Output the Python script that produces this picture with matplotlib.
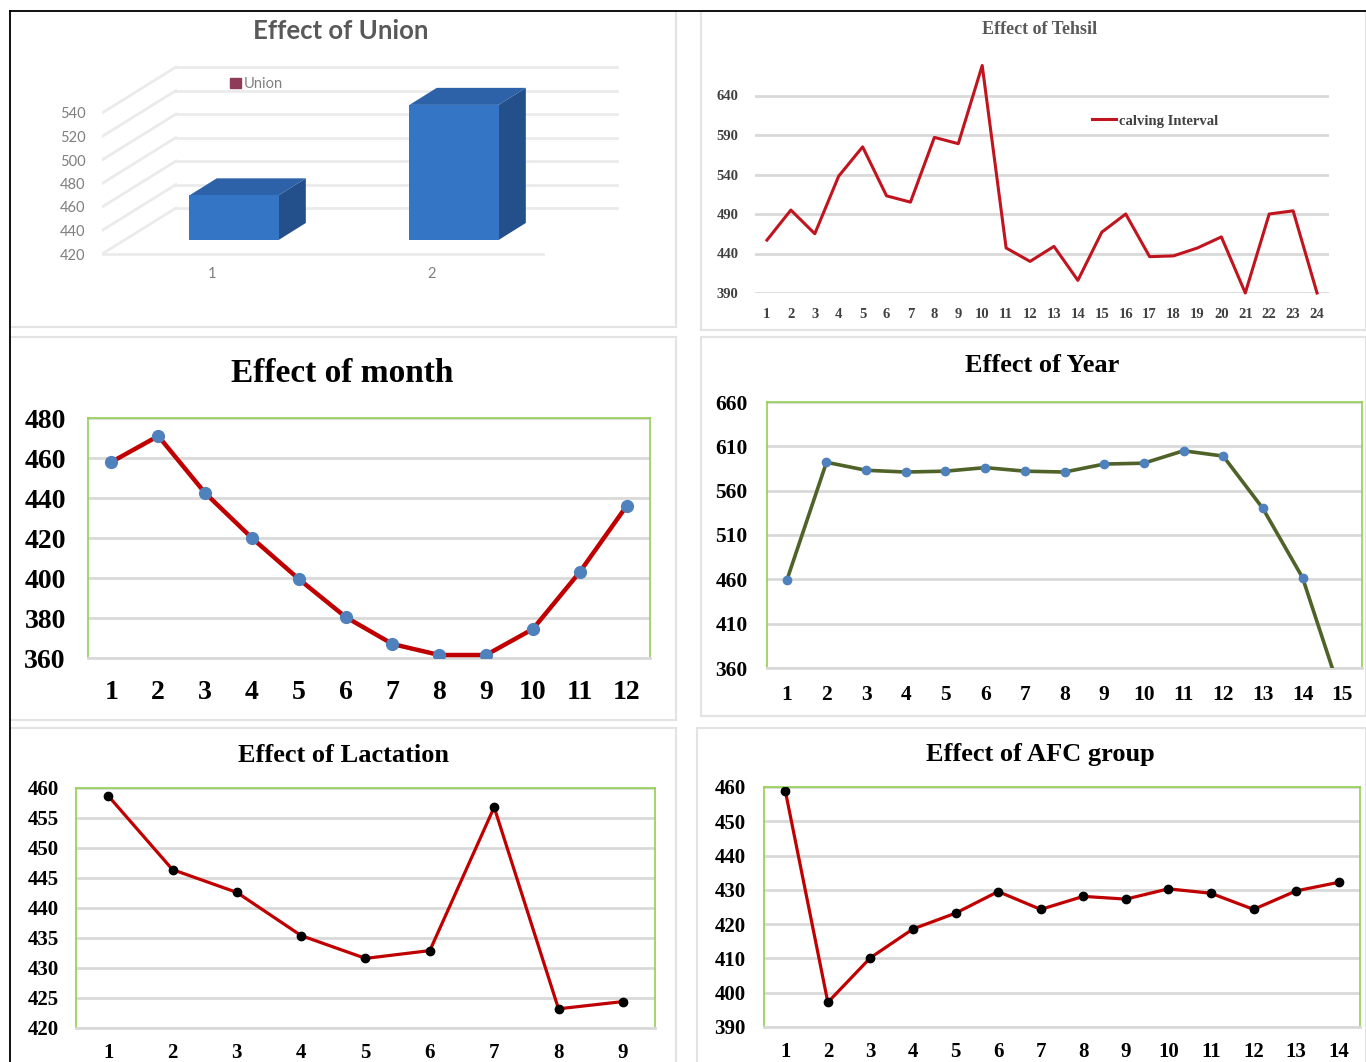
import matplotlib.pyplot as plt
from matplotlib.patches import Polygon, Rectangle, Patch
from matplotlib.lines import Line2D

W, H = 1366, 1062

union_cats = [1, 2]
union_vals = [458, 535]
union_ticks = [420, 440, 460, 480, 500, 520, 540]

tehsil_vals = [457, 495, 465, 538, 575, 513, 505, 587, 579, 678, 447, 430,
               449, 406, 467, 490, 436, 437, 447, 461, 390, 490, 494, 390]
tehsil_ticks = [390, 440, 490, 540, 590, 640]

month_vals = [458, 471, 442.5, 420, 399.5, 380.5, 367, 361.5, 361.5, 374.5, 403, 436]
month_ticks = [360, 380, 400, 420, 440, 460, 480]

year_vals = [459, 592, 583, 581, 582, 586, 582, 581, 590, 591, 605, 599, 540, 462, 326]
year_ticks = [360, 410, 460, 510, 560, 610, 660]

lact_vals = [458.7, 446.4, 442.6, 435.4, 431.6, 432.9, 456.8, 423.2, 424.4]
lact_ticks = [420, 425, 430, 435, 440, 445, 450, 455, 460]

afc_vals = [458.9, 397.2, 410.2, 418.6, 423.2, 429.5, 424.3, 428.1, 427.3,
            430.3, 429.0, 424.3, 429.7, 432.2]
afc_ticks = [390, 400, 410, 420, 430, 440, 450, 460]

GRID = "#d9d9d9"
GREEN = "#92d050"
SERIF = "Liberation Serif"

plt.rcParams["font.family"] = SERIF

fig = plt.figure(figsize=(W / 100, H / 100), dpi=100)


def px_axes(left, top, right, bottom):
    return fig.add_axes([left / W, 1 - bottom / H, (right - left) / W, (bottom - top) / H])


def fig_text(x, y, s, **kw):
    fig.text(x / W, 1 - y / H, s, ha="center", va="center", **kw)


# panel frames
for left, top, right, bottom in [(10, 11, 676, 327), (701, 11, 1366, 330),
                                 (10, 337, 676, 720), (701, 337, 1366, 716),
                                 (10, 728, 676, 1064), (697, 728, 1366, 1064)]:
    fig.patches.append(Rectangle((left / W, 1 - bottom / H), (right - left) / W,
                                 (bottom - top) / H, transform=fig.transFigure,
                                 fill=False, edgecolor="#e3e3e3", lw=1.5))
fig.lines.append(Line2D([10 / W, 1], [1 - 11 / H, 1 - 11 / H], transform=fig.transFigure,
                        color="black", lw=1.3))
fig.lines.append(Line2D([10 / W, 10 / W], [0, 1 - 11 / H], transform=fig.transFigure,
                        color="black", lw=1.3))

# --- Effect of Union: pseudo-3D columns ---
ax = px_axes(102, 54.25, 630, 265.75)
ax.set_xlim(0.5, 2.9)
ax.set_ylim(410, 590)
wall_dx, wall_dy = 0.336, 39.1
bar_dx, bar_dy = 0.10, 11.9
top_dx, top_dy = 0.124, 14.5
base = union_ticks[0]
for t in union_ticks:
    ax.plot([0.5, 0.5 + wall_dx], [t, t + wall_dy], color="#ebebeb", lw=2, zorder=1)
    ax.plot([0.5 + wall_dx, 2.84], [t + wall_dy, t + wall_dy], color="#ebebeb", lw=2, zorder=1)
ax.plot([0.5, 2.505], [base, base], color="#ebebeb", lw=2, zorder=1)
bw = 0.405
for c, v in zip(union_cats, union_vals):
    x0 = c - bw / 2 + bar_dx
    x1 = c + bw / 2 + bar_dx
    y0 = base + bar_dy
    y1 = v + bar_dy
    ax.add_patch(Polygon([(x1, y0), (x1, y1), (x1 + top_dx, y1 + top_dy), (x1 + top_dx, y0 + top_dy)],
                         closed=True, facecolor="#234f8a", edgecolor="none", zorder=2))
    ax.add_patch(Polygon([(x0, y1), (x1, y1), (x1 + top_dx, y1 + top_dy), (x0 + top_dx, y1 + top_dy)],
                         closed=True, facecolor="#2d62a8", edgecolor="none", zorder=2))
    ax.bar(c + bar_dx, v - base, bottom=y0, width=bw, color="#3575c6", zorder=3)
ax.set_yticks(union_ticks)
ax.set_xticks(union_cats)
ax.tick_params(length=0, labelsize=10.5, labelcolor="#7f7f7f")
ax.tick_params(axis="y", pad=12)
ax.tick_params(axis="x", pad=1)
for lab in ax.get_xticklabels() + ax.get_yticklabels():
    lab.set_family("Lato")
for s in ax.spines.values():
    s.set_visible(False)
ax.patch.set_alpha(0)
ax.legend(handles=[Patch(facecolor="#8e3a59", edgecolor="#8e3a59", label="Union")],
          loc="center left", bbox_to_anchor=(223 / W, 1 - 84 / H), bbox_transform=fig.transFigure,
          frameon=False, borderpad=0, handlelength=0.7, handleheight=0.7, handletextpad=0.2,
          prop={"family": "Lato", "size": 10.5}, labelcolor="#7f7f7f")
fig_text(341, 31, "Effect of Union", color="#595959", fontsize=18.5, fontweight="bold", family="Lato")

# --- Effect of Tehsil ---
ax = px_axes(755, 56, 1329, 293)
n = len(tehsil_vals)
ax.set_xlim(0.5, n + 0.5)
ax.set_ylim(390, 690)
ax.set_yticks(tehsil_ticks)
ax.set_xticks(range(1, n + 1))
ax.grid(axis="y", color=GRID, lw=2)
ax.set_axisbelow(True)
ax.plot(range(1, n + 1), tehsil_vals, color="#c0141e", lw=2.2, label="calving Interval",
        clip_on=False)
ax.tick_params(length=0, labelsize=10.5, labelcolor="#404040")
ax.tick_params(axis="y", pad=12)
ax.tick_params(axis="x", pad=11)
for lab in ax.get_xticklabels() + ax.get_yticklabels():
    lab.set_fontweight("bold")
for s in ax.spines.values():
    s.set_visible(False)
ax.legend(loc="center left", bbox_to_anchor=(1085 / W, 1 - 121 / H), bbox_transform=fig.transFigure,
          frameon=False, borderpad=0, handlelength=1.6, handletextpad=0.2,
          prop={"family": SERIF, "size": 10.5, "weight": "bold"}, labelcolor="#404040")
fig_text(1040, 30, "Effect of Tehsil", color="#595959", fontsize=13, fontweight="bold")


def line_panel(box, values, ticks, color, mcolor, lw, ms, size, ypad, xpad):
    ax = px_axes(*box)
    n = len(values)
    ax.set_xlim(0.5, n + 0.5)
    ax.set_ylim(ticks[0], ticks[-1])
    ax.set_yticks(ticks)
    ax.set_xticks(range(1, n + 1))
    ax.grid(axis="y", color=GRID, lw=2)
    ax.set_axisbelow(True)
    ax.plot(range(1, n + 1), values, color=color, lw=lw, marker="o", ms=ms,
            mfc=mcolor, mec=mcolor, zorder=3)
    ax.tick_params(length=0, labelsize=size, labelcolor="black")
    ax.tick_params(axis="y", pad=ypad)
    ax.tick_params(axis="x", pad=xpad)
    for lab in ax.get_xticklabels() + ax.get_yticklabels():
        lab.set_fontweight("bold")
    for side in ("left", "top", "right"):
        ax.spines[side].set_color(GREEN)
        ax.spines[side].set_linewidth(1.2)
    ax.spines["bottom"].set_color(GRID)
    ax.spines["bottom"].set_linewidth(2)
    return ax


line_panel((88, 418, 650, 658), month_vals, month_ticks, "#c00000", "#4f81bd", 3.2, 8.5, 20, 16, 16)
fig_text(342, 373, "Effect of month", fontsize=24, fontweight="bold")

line_panel((767, 402, 1362, 668), year_vals, year_ticks, "#4f6228", "#4f81bd", 2.6, 6, 15.5, 14, 12)
fig_text(1042, 366, "Effect of Year", fontsize=19, fontweight="bold")

line_panel((76, 788, 655, 1028), lact_vals, lact_ticks, "#c00000", "black", 2.3, 6, 15, 12, 11)
fig_text(344, 756, "Effect of Lactation", fontsize=19, fontweight="bold")

line_panel((764, 787, 1360, 1027), afc_vals, afc_ticks, "#c00000", "black", 2.3, 6, 15, 13, 11)
fig_text(1040, 754, "Effect of AFC group", fontsize=19, fontweight="bold")

fig.savefig("out.png", dpi=100)
